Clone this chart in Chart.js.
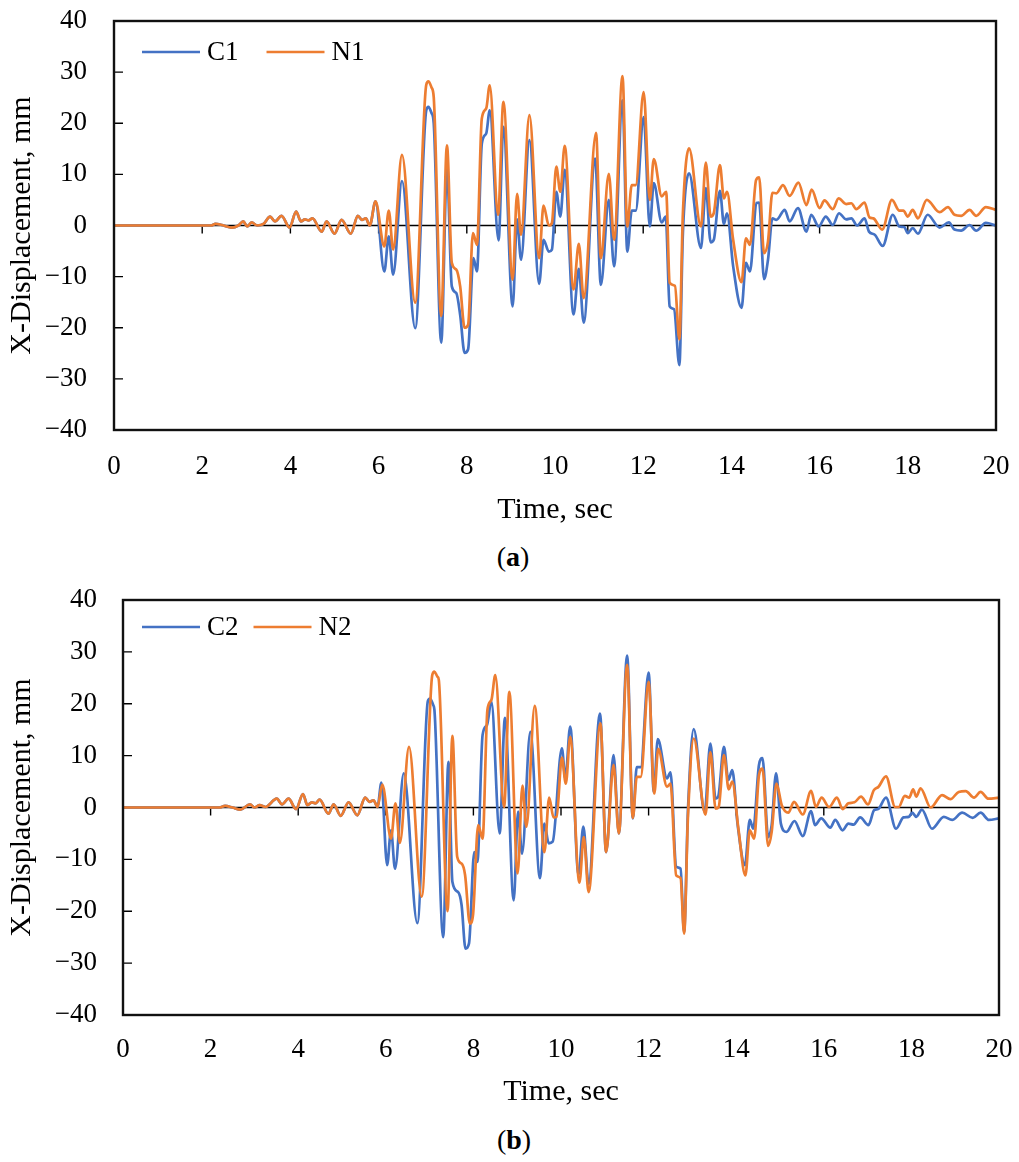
<!DOCTYPE html>
<html>
<head>
<meta charset="utf-8">
<script src="https://cdn.jsdelivr.net/npm/chart.js@4.4.1/dist/chart.umd.min.js"></script>
<style>
  body { margin: 0; background: #fff; width: 1019px; height: 1162px; position: relative; overflow: hidden; }
  .panel { position: absolute; left: 0; width: 1019px; height: 530px; }
  .caption { position: absolute; width: 200px; text-align: center; font: 28px "Liberation Serif", "Times New Roman", serif; line-height: 32px; color: #000; }
</style>
</head>
<body>
<div class="panel" style="top:0"><canvas id="chartA" width="1019" height="530"></canvas></div>
<div class="caption" style="left:413px; top:541px">(<b>a</b>)</div>
<div class="panel" style="top:580px"><canvas id="chartB" width="1019" height="530"></canvas></div>
<div class="caption" style="left:414px; top:1124px">(<b>b</b>)</div>
<script>
// quiet start, same for both models of a panel
const quietTimeA = [0, 2.2, 2.3, 2.45, 2.67, 2.82, 2.93, 3.02, 3.12, 3.25, 3.39, 3.54, 3.65, 3.8, 3.98, 4.13, 4.24, 4.33, 4.41, 4.5, 4.71, 4.82, 5.0, 5.16, 5.37, 5.53, 5.62, 5.71, 5.8, 5.93];
const quietDispA = [0, 0, 0.3, 0.1, -0.4, 0, 0.8, -0.2, 0.6, 0, 0.3, 1.75, 0.8, 1.9, -0.4, 2.7, 0.8, 1.2, 1.0, 1.4, -1.2, 0.8, -1.6, 1.1, -1.6, 1.9, 1.1, 1.4, 0, 4.7];

const c1Time = [6.13, 6.23, 6.33, 6.53, 6.83, 7.08, 7.13, 7.2, 7.25, 7.42, 7.55, 7.66, 7.76, 7.85, 7.95, 8.03, 8.15, 8.23, 8.34, 8.44, 8.52, 8.72, 8.83, 9.04, 9.14, 9.23, 9.42, 9.64, 9.74, 9.86, 9.93, 10.03, 10.12, 10.22, 10.42, 10.54, 10.65, 10.91, 11.04, 11.22, 11.34, 11.53, 11.64, 11.74, 11.83, 12.01, 12.15, 12.24, 12.42, 12.51, 12.6, 12.7, 12.82, 12.9, 13.04, 13.31, 13.42, 13.53, 13.6, 13.74, 13.83, 13.9, 14.04, 14.23, 14.33, 14.42, 14.57, 14.63, 14.74, 14.83, 14.93, 15.02, 15.21, 15.32, 15.51, 15.7, 15.81, 15.98, 16.14, 16.3, 16.44, 16.6, 16.72, 16.85, 17.02, 17.12, 17.25, 17.43, 17.66, 17.81, 17.92, 18.0, 18.11, 18.23, 18.45, 18.72, 18.93, 19.06, 19.21, 19.4, 19.55, 19.77, 20];
const c1Disp = [-9.0, -2.1, -9.6, 8.7, -20.1, 22.5, 23.2, 22.0, 20, -22.9, 10.9, -11.9, -13.2, -17.5, -24.9, -24.2, -6.4, -9.0, 16, 18, 22.5, -2.9, 19.3, -15.8, 1.2, -6.7, 16.7, -11.4, -2.8, -5.1, -4.7, 6.6, 1.75, 10.9, -17.4, -8.5, -19.0, 13.1, -11.6, 5.0, -8.0, 24.5, -5.1, 2.9, 2.9, 21.2, -0.2, 8.3, 0.6, 1.75, -15.8, -16.4, -27.3, -1.5, 10.2, -4.4, 7.3, -3.3, -2.8, 6.8, 0.3, 2.4, -8.0, -16.1, -7.3, -9.0, 4.4, 4.5, -10.5, -6.7, 1.4, 1.1, 3.05, 0.8, 3.4, -1.2, 2.1, -0.2, 1.75, 0.1, 2.4, 1.2, 1.4, 0, 1.4, -1.2, -1.8, -4.0, 2.1, -0.2, -0.3, -1.5, -0.5, -1.6, 2.1, -0.4, 0.6, -0.8, -1.0, 0.1, -1.0, 0.5, 0];

const n1Time = [6.13, 6.23, 6.33, 6.53, 6.83, 7.08, 7.13, 7.2, 7.25, 7.42, 7.55, 7.66, 7.76, 7.85, 7.95, 8.03, 8.14, 8.23, 8.34, 8.44, 8.52, 8.71, 8.83, 9.04, 9.14, 9.23, 9.42, 9.64, 9.74, 9.86, 9.93, 10.03, 10.12, 10.22, 10.42, 10.54, 10.65, 10.93, 11.04, 11.22, 11.34, 11.53, 11.64, 11.74, 11.83, 12.01, 12.15, 12.24, 12.42, 12.52, 12.6, 12.72, 12.82, 12.9, 13.04, 13.31, 13.42, 13.53, 13.6, 13.74, 13.83, 13.9, 14.04, 14.23, 14.33, 14.42, 14.56, 14.63, 14.74, 14.83, 14.93, 15.02, 15.17, 15.32, 15.52, 15.7, 15.82, 16.0, 16.11, 16.3, 16.43, 16.6, 16.72, 16.83, 17.02, 17.13, 17.22, 17.42, 17.64, 17.81, 17.9, 18.0, 18.11, 18.23, 18.43, 18.72, 18.91, 19.06, 19.21, 19.4, 19.55, 19.77, 20];
const n1Disp = [-4.1, 2.9, -4.7, 13.8, -15.1, 27.5, 28.2, 27.0, 25.1, -17.7, 15.7, -7.3, -8.6, -11.9, -20.0, -19.4, -1.5, -3.8, 20.9, 22.9, 27.4, 2.1, 24.2, -10.6, 6.2, -1.8, 21.6, -6.4, 3.9, 0, 0.5, 11.5, 6.6, 15.6, -12.5, -3.6, -14.2, 18.1, -6.4, 10.1, -2.8, 29.2, -0.2, 7.9, 7.9, 26.1, 5.0, 13.0, 5.7, 6.6, -11.2, -11.8, -22.3, 2.4, 15.1, -0.2, 12.3, 1.75, 2.4, 11.8, 5.3, 6.6, -2.8, -11.1, -2.5, -3.8, 8.9, 9.4, -5.4, -3.1, 6.4, 6.3, 7.9, 5.8, 8.4, 4.0, 7.0, 3.4, 4.9, 3.2, 5.3, 4.2, 4.35, 3.2, 4.5, 1.6, 1.4, -0.8, 5.0, 2.9, 2.9, 1.75, 3.05, 1.4, 5.0, 2.6, 3.6, 2.1, 1.9, 3.05, 1.9, 3.6, 3.05];

const quietTimeB = [0, 2.2, 2.33, 2.5, 2.68, 2.9, 3.0, 3.12, 3.25, 3.51, 3.63, 3.78, 3.95, 4.11, 4.21, 4.31, 4.39, 4.49, 4.69, 4.81, 4.97, 5.15, 5.35, 5.53, 5.63, 5.72, 5.81];
const quietDispB = [0, 0, 0.3, 0, -0.4, 0.6, 0, 0.45, 0.1, 1.7, 0.6, 1.7, -0.3, 2.6, 0.45, 1.0, 0.8, 1.5, -1.2, 0.6, -1.6, 1.0, -1.5, 1.9, 1.1, 1.4, 0.1];

const c2Time = [5.9, 6.03, 6.12, 6.21, 6.41, 6.72, 6.96, 7.01, 7.08, 7.11, 7.31, 7.43, 7.52, 7.65, 7.73, 7.82, 7.9, 8.02, 8.09, 8.21, 8.31, 8.41, 8.6, 8.72, 8.92, 9.02, 9.11, 9.3, 9.52, 9.62, 9.72, 9.81, 10.02, 10.1, 10.21, 10.4, 10.51, 10.63, 10.89, 11.03, 11.2, 11.32, 11.51, 11.64, 11.73, 11.82, 12.0, 12.12, 12.21, 12.42, 12.5, 12.63, 12.73, 12.81, 12.9, 13.03, 13.28, 13.41, 13.53, 13.59, 13.72, 13.82, 13.91, 14.03, 14.2, 14.31, 14.39, 14.52, 14.6, 14.73, 14.81, 14.91, 15.02, 15.15, 15.33, 15.52, 15.71, 15.8, 15.94, 16.15, 16.26, 16.43, 16.56, 16.68, 16.83, 17.02, 17.15, 17.24, 17.42, 17.65, 17.82, 17.94, 18.02, 18.11, 18.24, 18.47, 18.74, 18.93, 19.16, 19.4, 19.58, 19.77, 20];
const c2Disp = [4.8, -11.1, -4.4, -11.8, 6.6, -22.3, 20.5, 21.0, 19.8, 18.8, -25.0, 8.8, -14.3, -16.3, -18.8, -27.2, -26.2, -8.6, -10.5, 14.0, 15.9, 20.4, -5.0, 17.3, -17.9, -0.8, -8.9, 14.6, -13.6, -3.1, -6.9, -6.6, 11.4, 5.6, 15.6, -12.9, -3.7, -14.7, 18.1, -8.6, 10.1, -5.0, 29.3, -2.1, 7.8, 7.8, 26.0, 3.0, 13.2, 5.6, 6.8, -11.4, -11.8, -24.0, -0.2, 15.1, -0.8, 12.3, 1.7, 2.1, 11.7, 5.3, 7.2, -3.1, -11.1, -2.4, -4.1, 8.2, 9.5, -5.7, -3.4, 6.6, -3.1, -4.7, -2.6, -5.5, -0.7, -3.4, -2.1, -3.9, -2.4, -4.4, -3.1, -3.3, -1.9, -3.4, -0.5, -0.3, 1.9, -4.1, -1.9, -1.8, -1.0, -1.8, -0.4, -4.1, -1.8, -2.4, -1.0, -2.0, -1.0, -2.4, -2.1];

const n2Time = [5.92, 6.12, 6.22, 6.32, 6.53, 6.82, 7.06, 7.11, 7.18, 7.21, 7.41, 7.52, 7.63, 7.73, 7.81, 7.92, 7.99, 8.11, 8.21, 8.32, 8.41, 8.5, 8.7, 8.82, 9.01, 9.12, 9.21, 9.4, 9.62, 9.73, 9.83, 9.9, 10.02, 10.11, 10.21, 10.42, 10.52, 10.63, 10.9, 11.03, 11.2, 11.32, 11.51, 11.64, 11.73, 11.82, 12.0, 12.13, 12.22, 12.42, 12.5, 12.63, 12.73, 12.81, 12.9, 13.03, 13.3, 13.41, 13.53, 13.6, 13.72, 13.83, 13.91, 14.05, 14.21, 14.31, 14.41, 14.52, 14.6, 14.73, 14.81, 14.92, 15.04, 15.19, 15.32, 15.52, 15.71, 15.82, 15.95, 16.12, 16.3, 16.43, 16.56, 16.7, 16.85, 17.01, 17.14, 17.25, 17.42, 17.63, 17.71, 17.85, 17.95, 18.04, 18.11, 18.21, 18.44, 18.7, 18.89, 19.08, 19.24, 19.43, 19.58, 19.76, 20];
const n2Disp = [4.4, -6.0, 0.8, -6.8, 11.7, -17.2, 25.5, 26.2, 25.2, 24.6, -20.0, 13.8, -9.5, -10.8, -13.0, -22.4, -20.8, -3.4, -6.0, 18.8, 20.7, 25.5, 0.1, 22.3, -12.7, 4.2, -3.7, 19.6, -8.6, 1.9, -1.9, -1.8, 9.6, 4.6, 13.6, -14.5, -5.7, -16.3, 16.2, -8.6, 8.2, -5.0, 27.5, -2.0, 5.9, 5.9, 24.2, 2.7, 11.3, 4.0, 4.6, -13.1, -13.6, -24.3, -1.5, 13.3, -1.4, 10.7, -0.2, 0.1, 10.1, 3.5, 5.0, -4.1, -13.1, -4.4, -6.0, 6.2, 7.5, -7.4, -4.7, 4.6, 0.45, -1.0, 1.1, -1.35, 3.2, 0.1, 1.9, 0.1, 1.9, -0.3, 0.8, 1.0, 2.1, 0.6, 3.3, 4.0, 6.0, 0.1, 0.1, 2.25, 1.9, 3.5, 2.1, 3.7, 0, 2.4, 1.6, 3.0, 3.15, 1.9, 3.0, 1.7, 1.9];

const yTicks = [-40, 40, 10];
const xTicks = [0, 20, 2];

const BLUE = '#4472C4';
const ORANGE = '#ED7D31';
const SERIF = '"Liberation Serif", "Times New Roman", serif';

function toPoints(times, values) {
  return times.map(function (t, i) { return { x: t, y: values[i] }; });
}

// excel style: zero axis with ticks below it, inner ticks on the left, black frame
const excelFrame = {
  id: 'excelFrame',
  beforeDatasetsDraw: function (chart) {
    const ctx = chart.ctx, a = chart.chartArea;
    const x = chart.scales.x, y = chart.scales.y;
    const y0 = y.getPixelForValue(0);
    ctx.save();
    ctx.strokeStyle = '#000';
    ctx.lineWidth = 1.4;
    ctx.beginPath();
    ctx.moveTo(a.left, y0);
    ctx.lineTo(a.right, y0);
    x.ticks.forEach(function (t) {
      const px = x.getPixelForValue(t.value);
      ctx.moveTo(px, y0);
      ctx.lineTo(px, y0 + 8);
    });
    y.ticks.forEach(function (t) {
      const py = y.getPixelForValue(t.value);
      ctx.moveTo(a.left, py);
      ctx.lineTo(a.left + 9, py);
    });
    ctx.stroke();
    ctx.restore();
  },
  afterDatasetsDraw: function (chart, args, opts) {
    const ctx = chart.ctx, a = chart.chartArea;
    ctx.save();
    ctx.strokeStyle = '#111';
    ctx.lineWidth = 2.4;
    ctx.strokeRect(a.left, a.top, a.right - a.left, a.bottom - a.top);

    // legend inside the plot, top left
    ctx.font = '27px ' + SERIF;
    ctx.textBaseline = 'middle';
    ctx.fillStyle = '#000';
    let lx = a.left + opts.left;
    const ly = a.top + opts.top;
    chart.data.datasets.forEach(function (ds) {
      ctx.strokeStyle = ds.borderColor;
      ctx.lineWidth = ds.borderWidth;
      ctx.beginPath();
      ctx.moveTo(lx, ly);
      ctx.lineTo(lx + 58, ly);
      ctx.stroke();
      ctx.fillText(ds.label, lx + 65, ly + 1);
      lx += 65 + ctx.measureText(ds.label).width + opts.gap;
    });
    ctx.restore();
  }
};

function makeChart(id, names, series, box) {
  const ctx = document.getElementById(id).getContext('2d');
  return new Chart(ctx, {
    type: 'line',
    data: {
      datasets: [{
        label: names[0],
        data: series[0],
        borderColor: BLUE,
        borderWidth: 2.7,
        order: 1
      }, {
        label: names[1],
        data: series[1],
        borderColor: ORANGE,
        borderWidth: 2.7,
        order: 0
      }]
    },
    options: {
      responsive: false,
      animation: false,
      devicePixelRatio: 1,
      elements: {
        point: { radius: 0 },
        line: { cubicInterpolationMode: 'monotone' }
      },
      layout: { padding: { top: box.top, right: box.right, bottom: 0, left: 0 } },
      plugins: {
        legend: { display: false },
        tooltip: { enabled: false },
        excelFrame: box.legend
      },
      scales: {
        x: {
          type: 'linear',
          min: xTicks[0],
          max: xTicks[1],
          afterFit: function (s) { s.height = box.xHeight; s.paddingLeft = 0; s.paddingRight = 0; },
          grid: { display: false, drawTicks: false },
          border: { display: false },
          ticks: {
            stepSize: xTicks[2],
            padding: box.xTickPad,
            color: '#000',
            maxRotation: 0,
            font: { family: SERIF, size: 27 }
          },
          title: {
            display: true,
            text: 'Time, sec',
            color: '#000',
            padding: { top: 0, bottom: box.xTitlePad },
            font: { family: SERIF, size: 30 }
          }
        },
        y: {
          min: yTicks[0],
          max: yTicks[1],
          afterFit: function (s) { s.width = box.yWidth; s.paddingTop = 0; s.paddingBottom = 0; },
          grid: { display: false, drawTicks: false },
          border: { display: false },
          ticks: {
            stepSize: yTicks[2],
            padding: box.yTickPad,
            color: '#000',
            font: { family: SERIF, size: 27 },
            callback: function (v) { return v < 0 ? '\u2212' + Math.abs(v) : String(v); }
          },
          title: {
            display: true,
            text: 'X-Displacement, mm',
            color: '#000',
            padding: { top: box.yTitlePad, bottom: 0 },
            font: { family: SERIF, size: 30 }
          }
        }
      }
    },
    plugins: [excelFrame]
  });
}

makeChart('chartA', ['C1', 'N1'], [
  toPoints(quietTimeA.concat(c1Time), quietDispA.concat(c1Disp)),
  toPoints(quietTimeA.concat(n1Time), quietDispA.concat(n1Disp))
], { top: 21, right: 23, yWidth: 114, xHeight: 100, xTickPad: 21, xTitlePad: 2, yTickPad: 27, yTitlePad: 4,
     legend: { left: 28, top: 31, gap: 28 } });

makeChart('chartB', ['C2', 'N2'], [
  toPoints(quietTimeB.concat(c2Time), quietDispB.concat(c2Disp)),
  toPoints(quietTimeB.concat(n2Time), quietDispB.concat(n2Disp))
], { top: 20, right: 20, yWidth: 123, xHeight: 95, xTickPad: 19, xTitlePad: 0, yTickPad: 26, yTitlePad: 4,
     legend: { left: 19, top: 27, gap: 15 } });
</script>
</body>
</html>
